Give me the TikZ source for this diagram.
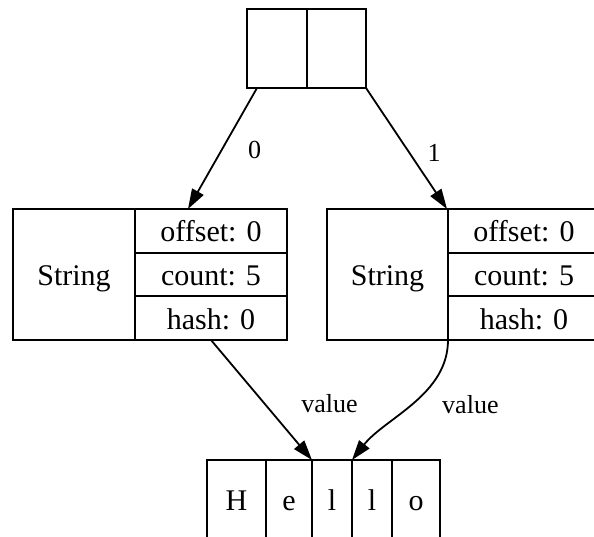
\documentclass[tikz,border=0pt]{standalone}
\usepackage{fontspec}
\setmainfont{Liberation Serif}
\usetikzlibrary{arrows.meta}
\newcommand\cellfont{\fontsize{30}{36}\selectfont}
\newcommand\edgefont{\fontsize{26}{31}\selectfont}
\begin{document}
\begin{tikzpicture}[x=1pt,y=-1pt,
  cell/.style={draw, line width=1.8pt, inner sep=0pt, outer sep=0pt,
    font=\cellfont, text height=22pt, text depth=0pt},
  slot/.style={cell, minimum height=79pt},
  field/.style={cell, minimum width=152pt, minimum height=43.67pt},
  link/.style={line width=1.8pt, -{Triangle[length=20pt,width=13pt]}},
  tag/.style={font=\edgefont, inner sep=0pt}]
\useasboundingbox (0,0) rectangle (594,536);
\clip (0,0) rectangle (594,536);

% array of two references
\node[slot, minimum width=60pt] (t0) at (277,48.5) {};
\node[slot, minimum width=59pt] (t1) at (336.5,48.5) {};

% first String object
\node[cell, minimum width=122pt, minimum height=131pt] (ln) at (74,274.5) {String};
\node[field] (lo) at (211,230.83) {offset: 0};
\node[field] (lc) at (211,274.5) {count: 5};
\node[field] (lh) at (211,318.17) {hash: 0};

% second String object
\node[cell, minimum width=121pt, minimum height=131pt] (rn) at (387.5,274.5) {String};
\node[field] (ro) at (524,230.83) {offset: 0};
\node[field] (rc) at (524,274.5) {count: 5};
\node[field] (rh) at (524,318.17) {hash: 0};

% shared character array
\node[slot, minimum width=59pt] (h1) at (236.5,499.5) {H};
\node[slot, minimum width=46pt] (h2) at (289,499.5) {e};
\node[slot, minimum width=40pt] (h3) at (332,499.5) {l};
\node[slot, minimum width=40pt] (h4) at (372,499.5) {l};
\node[slot, minimum width=48pt] (h5) at (416,499.5) {o};

% references
\draw[link] ([xshift=-20pt]t0.south) -- ([xshift=-23pt]lo.north)
  node[tag, pos=0.5, xshift=32pt, yshift=-1pt] {0};
\draw[link] (t1.south east) -- ([xshift=-1pt]ro.north west)
  node[tag, pos=0.5, xshift=27.5pt, yshift=-4pt] {1};
\draw[link] (lh.south) -- (h3.north west)
  node[tag, pos=0.5, xshift=68pt, yshift=-4pt] {value};
\draw[link] (rh.south west) .. controls (448,395) and (385,418) .. (h4.north west)
  node[tag, pos=0.5, xshift=58pt, yshift=0pt] {value};
\end{tikzpicture}
\end{document}
